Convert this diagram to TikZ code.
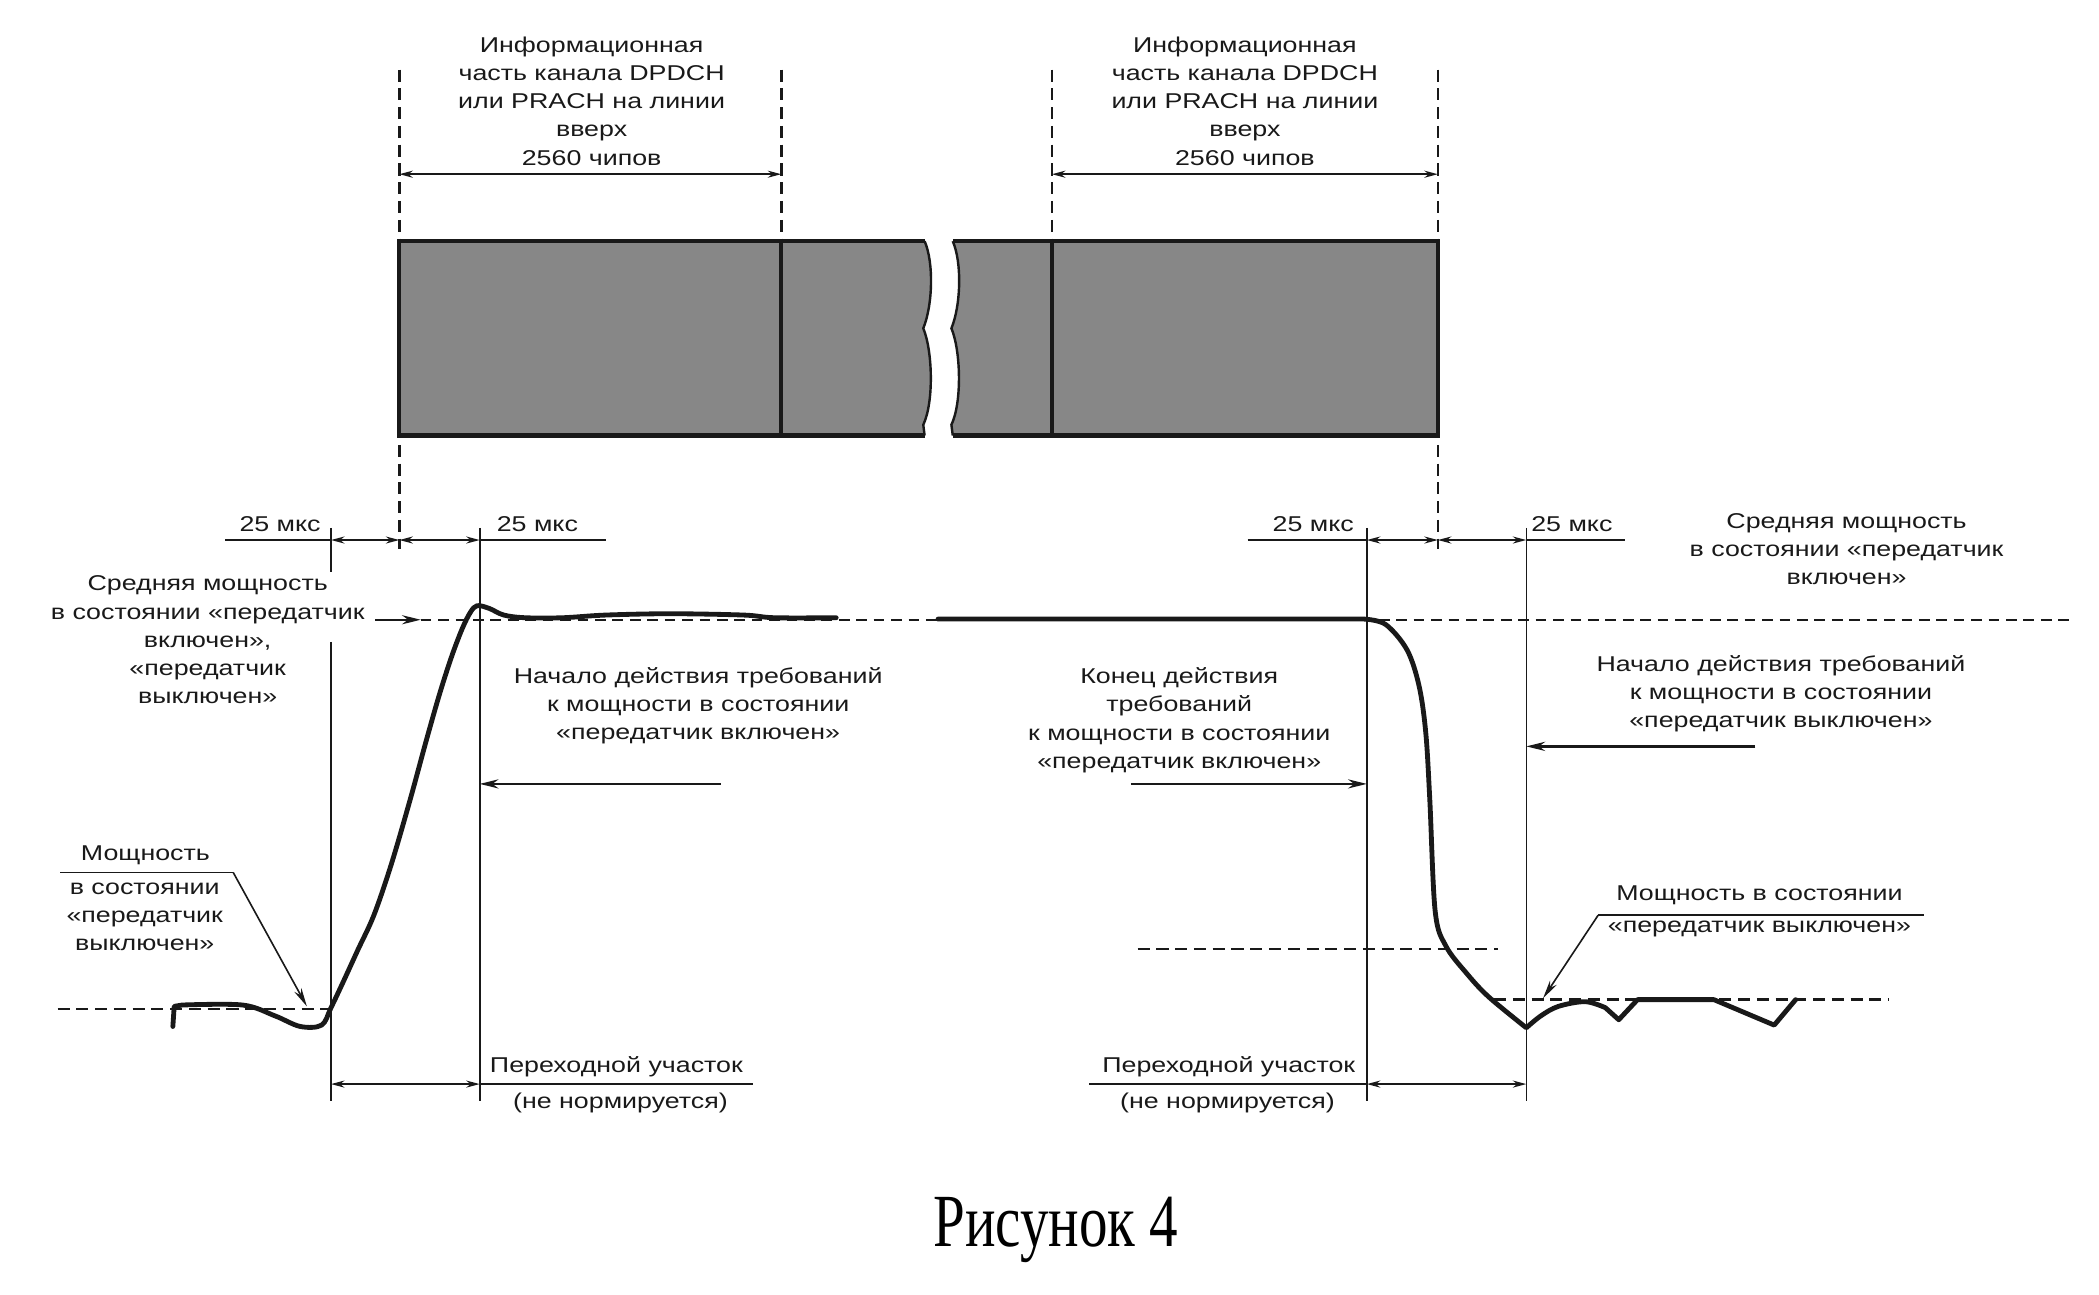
\documentclass[tikz,border=0pt]{standalone}
\usepackage{fontspec}
\newfontfamily\lbl{Liberation Sans}[FakeStretch=1.25]
\newfontfamily\capfont{Liberation Serif}[FakeStretch=0.76]
\usetikzlibrary{arrows.meta}
\definecolor{boxgray}{RGB}{135,135,135}
\definecolor{ink}{RGB}{25,25,25}
\begin{document}
\begin{tikzpicture}[x=0.5pt,y=-0.5pt,
  lab/.style={font=\lbl\fontsize{8}{10.5}\selectfont, align=center, inner sep=0pt, text=ink},
  vline/.style={draw=ink, line width=0.6pt},
  shelf/.style={draw=ink, line width=0.9pt},
  dimarr/.style={draw=ink, line width=0.8pt, {Stealth[length=5pt,width=2.6pt]}-{Stealth[length=5pt,width=2.6pt]}},
  leadarr/.style={draw=ink, line width=0.9pt, -{Stealth[length=7pt,width=3.4pt]}},
  thinarr/.style={draw=ink, line width=0.6pt, -{Stealth[length=7pt,width=3pt]}},
  dashv/.style={draw=ink, line width=1pt, dash pattern=on 4.5pt off 2.5pt},
  meandash/.style={draw=ink, line width=0.6pt, dash pattern=on 4pt off 2.5pt},
  lowdash/.style={draw=ink, line width=0.9pt, dash pattern=on 4.5pt off 2.5pt},
  curve/.style={draw=ink, line width=1.8pt, line join=round, line cap=round},
  boxline/.style={draw=ink, line width=1.6pt},
  waveline/.style={draw=ink, line width=0.9pt}]
\useasboundingbox (0,0) rectangle (1566.4,966.4);

% ---------- key coordinates ----------
\coordinate (Atop) at (247,394); \coordinate (Agap1) at (247,427);
\coordinate (Agap2) at (247,479); \coordinate (Abot) at (247,822);
\coordinate (Btop) at (298,52);   \coordinate (Bbot) at (298,410);
\coordinate (Ctop) at (358,394);  \coordinate (Cbot) at (358,822);
\coordinate (Gtop) at (583,52);   \coordinate (Gbot) at (583,180);
\coordinate (Htop) at (785,52);   \coordinate (Hbot) at (785,180);
\coordinate (Dtop) at (1020,394); \coordinate (Dbot) at (1020,822);
\coordinate (Etop) at (1073,52);  \coordinate (Ebot) at (1073,410);
\coordinate (Ftop) at (1139,394); \coordinate (Fbot) at (1139,822);

% ---------- dashed extension lines ----------
\draw[dashv] (Btop) -- (Bbot);
\draw[dashv] (Gtop) -- (Gbot);
\draw[dashv] (Htop) -- (Hbot);
\draw[dashv] (Etop) -- (Ebot);

% ---------- frame box ----------
\fill[boxgray] (298,180) -- (690,180) .. controls (697,196) and (696,228) .. (689,245)
  .. controls (696,262) and (697,300) .. (689,317) -- (690,325) -- (298,325) -- cycle;
\fill[boxgray] (711,180) -- (1073,180) -- (1073,325) -- (711,325) -- (710,317)
  .. controls (718,300) and (717,262) .. (710,245) .. controls (717,228) and (718,196) .. (711,180) -- cycle;
\draw[boxline] (690,180) -- (298,180) -- (298,325) -- (690,325);
\draw[boxline] (711,180) -- (1073,180) -- (1073,325) -- (711,325);
\draw[waveline] (690,180) .. controls (697,196) and (696,228) .. (689,245)
  .. controls (696,262) and (697,300) .. (689,317) -- (690,325);
\draw[waveline] (711,180) .. controls (718,196) and (717,228) .. (710,245)
  .. controls (717,262) and (718,300) .. (710,317) -- (711,325);
\draw[boxline] (583,180) -- (583,325);
\draw[boxline] (785,180) -- (785,325);

% ---------- top dimensions ----------
\coordinate (d1l) at (298,130); \coordinate (d1r) at (583,130);
\coordinate (d2l) at (785,130); \coordinate (d2r) at (1073,130);
\draw[dimarr] (d1l) -- (d1r);
\draw[dimarr] (d2l) -- (d2r);
\node[lab] (toptxtL) at (441.5,75.5) {Информационная\\часть канала DPDCH\\или PRACH на линии\\вверх\\2560 чипов};
\node[lab] (toptxtR) at (929,75.5) {Информационная\\часть канала DPDCH\\или PRACH на линии\\вверх\\2560 чипов};

% ---------- vertical reference lines ----------
\draw[vline] (Atop) -- (Agap1);
\draw[vline] (Agap2) -- (Abot);
\draw[vline] (Ctop) -- (Cbot);
\draw[vline] (Dtop) -- (Dbot);
\draw[vline] (Ftop) -- (Fbot);

% ---------- 25 us dimensions ----------
\coordinate (sL1) at (168,403); \coordinate (sA) at (247,403); \coordinate (sB) at (298,403);
\coordinate (sC) at (358,403);  \coordinate (sL2) at (452,403);
\draw[shelf] (sL1) -- (sA);
\draw[dimarr] (sA) -- (sB);
\draw[dimarr] (sB) -- (sC);
\draw[shelf] (sC) -- (sL2);
\coordinate (sR1) at (931,403); \coordinate (sD) at (1020,403); \coordinate (sE) at (1073,403);
\coordinate (sF) at (1139,403); \coordinate (sR2) at (1213,403);
\draw[shelf] (sR1) -- (sD);
\draw[dimarr] (sD) -- (sE);
\draw[dimarr] (sE) -- (sF);
\draw[shelf] (sF) -- (sR2);
\node[lab] (us1) at (209,391) {25 мкс};
\node[lab] (us2) at (401,391) {25 мкс};
\node[lab] (us3) at (980,391) {25 мкс};
\node[lab] (us4) at (1173,391) {25 мкс};

% ---------- power level dashed lines ----------
\coordinate (meanArrS) at (280,462.5); \coordinate (meanArrE) at (314,462.5);
\coordinate (meanEnd) at (1546,462.5);
\draw[meandash] (meanArrE) -- (meanEnd);
\draw[leadarr] (meanArrS) -- (meanArrE);
\draw[lowdash] (43,753) -- (247,753);
\draw[lowdash] (849,708) -- (1118,708);
\draw[lowdash] (1115,746) -- (1410,746);

% ---------- power curve ----------
\draw[curve] (129,766) -- (130,751) -- plot[smooth, tension=0.55] coordinates {(136,750) (181,750) (205,758) (224,766) (240,765) (247,752) (256,733) (267,709) (279,683) (292,645) (306,597) (318,553) (328,518) (337,490) (345,469) (351,457) (356,452) (365,454) (376,459) (392,461) (420,461) (452,459) (500,458) (555,459) (578,461) (624,461)};
\draw[curve] (700,462) -- (1018,462) -- plot[smooth, tension=0.55] coordinates {(1018,462) (1034,466) (1050,485) (1059,512) (1064,547) (1067,597) (1071,680) (1079,706) (1095,727) (1111,744) (1139,767)}
  -- plot[smooth, tension=0.55] coordinates {(1139,767) (1150,758) (1163,751) (1183,747.5) (1198,752)}
  -- (1208,761) -- (1222,746) -- (1279,746) -- (1324,765) -- (1340,746);

% ---------- requirement arrows and texts ----------
\node[lab] (avgL) at (155,477.5) {Средняя мощность\\в состоянии «передатчик\\включен»,\\«передатчик\\выключен»};
\node[lab] (avgR) at (1378,410) {Средняя мощность\\в состоянии «передатчик\\включен»};
\node[lab] (startOn) at (521,526.5) {Начало действия требований\\к мощности в состоянии\\«передатчик включен»};
\node[lab] (endOn) at (880,537.5) {Конец действия\\требований\\к мощности в состоянии\\«передатчик включен»};
\node[lab] (startOff) at (1329,517.5) {Начало действия требований\\к мощности в состоянии\\«передатчик выключен»};
\coordinate (a1s) at (538,585); \coordinate (a1e) at (358,585);
\coordinate (a2s) at (844,585); \coordinate (a2e) at (1020,585);
\coordinate (a3s) at (1310,557); \coordinate (a3e) at (1139,557);
\draw[leadarr] (a1s) -- (a1e);
\draw[leadarr] (a2s) -- (a2e);
\draw[leadarr] (a3s) -- (a3e);

% ---------- off-power labels ----------
\node[lab] (offL1) at (108.5,638) {Мощность};
\node[lab] (offL2) at (108,684) {в состоянии\\«передатчик\\выключен»};
\coordinate (uL1) at (45,651); \coordinate (uL2) at (174,651); \coordinate (tipL) at (229,751);
\draw[vline] (uL1) -- (uL2);
\draw[thinarr] (uL2) -- (tipL);
\node[lab] (offR1) at (1313,668) {Мощность в состоянии};
\node[lab] (offR2) at (1313,693) {«передатчик выключен»};
\coordinate (uR1) at (1192.6,683); \coordinate (uR2) at (1436,683); \coordinate (tipR) at (1151.5,745);
\draw[shelf] (uR1) -- (uR2);
\draw[thinarr] (uR1) -- (tipR);

% ---------- transition dimensions ----------
\coordinate (bA) at (247,809); \coordinate (bC) at (358,809); \coordinate (bL) at (562,809);
\coordinate (bR) at (813,809); \coordinate (bD) at (1020,809); \coordinate (bF) at (1139,809);
\draw[dimarr] (bA) -- (bC);
\draw[shelf] (bC) -- (bL);
\draw[shelf] (bR) -- (bD);
\draw[dimarr] (bD) -- (bF);
\node[lab] (trL1) at (460,796) {Переходной участок};
\node[lab] (trL2) at (463,823) {(не нормируется)};
\node[lab] (trR1) at (917,796) {Переходной участок};
\node[lab] (trR2) at (916,823) {(не нормируется)};

% ---------- caption ----------
\node[font=\capfont\fontsize{28}{30}\selectfont, inner sep=0pt, anchor=base, text=black] (cap) at (788,930) {Рисунок 4};
\end{tikzpicture}
\end{document}
